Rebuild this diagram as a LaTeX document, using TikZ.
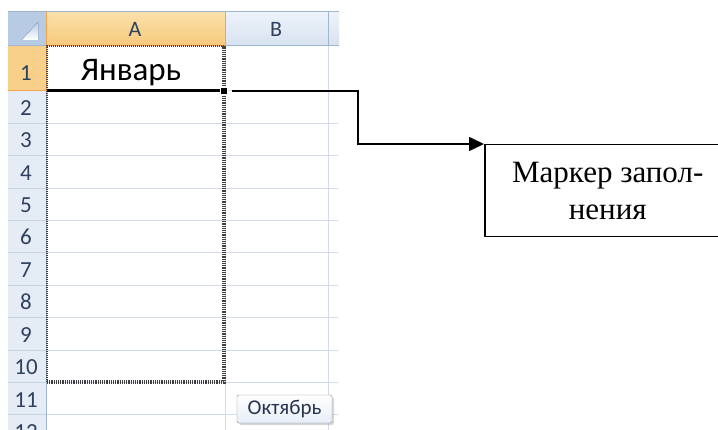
\documentclass[tikz,border=0pt]{standalone}
\usepackage{fontspec}
\setmainfont{Liberation Serif}
\newfontfamily\xlfont{Carlito}
\usetikzlibrary{arrows.meta,shadows}
\definecolor{hdrtop}{HTML}{EEF3FA}
\definecolor{hdrbot}{HTML}{D7E2F0}
\definecolor{hdrline}{HTML}{9EB6CE}
\definecolor{hdrortop}{HTML}{FBE0AC}
\definecolor{hdrorbot}{HTML}{F6C97A}
\definecolor{hdrorline}{HTML}{F2A54A}
\definecolor{gridline}{HTML}{D4DCEA}
\definecolor{hdrtext}{HTML}{2F4160}
\definecolor{cornerblue}{HTML}{B7CBE4}
\tikzset{
  rownum/.style={font=\xlfont\fontsize{23}{23}\selectfont,text=hdrtext,anchor=base,inner sep=0pt},
  colname/.style={font=\xlfont\fontsize{22}{22}\selectfont,text=hdrtext,anchor=base,inner sep=0pt},
  antsline/.style={draw=black!75,dash pattern=on 1pt off 1pt},
}
\begin{document}
\begin{tikzpicture}[x=1pt,y=-1pt]
\clip (0,0) rectangle (718,430);
\fill[white] (0,0) rectangle (718,430);
% headers
\fill[top color=hdrtop,bottom color=hdrbot] (8,12) rectangle (339,46);
\fill[hdrtop!60!hdrbot] (8,46) rectangle (46,430);
\fill[top color=hdrortop,bottom color=hdrorbot] (46,12) rectangle (225,46);
\fill[hdrorbot!70!hdrortop] (8,46) rectangle (46,91);
\fill[cornerblue] (8,12) rectangle (46,46);
\fill[top color=cornerblue,bottom color=white] (38,22) -- (38,40) -- (22,40) -- cycle;
% grid
\foreach \k in {0,...,10} {
  \draw[gridline,line width=1pt] (46,91+\k*32.4) -- (338,91+\k*32.4);
  \draw[hdrline!60,line width=1pt] (8,91+\k*32.4) -- (46,91+\k*32.4);
}
\draw[gridline,line width=1pt] (225,46) -- (225,430);
\draw[gridline,line width=1pt] (328,46) -- (328,430);
\draw[hdrline,line width=1pt] (8,12) -- (339,12);
\draw[hdrline,line width=1pt] (8,46) -- (339,46);
\draw[hdrline,line width=1pt] (46,46) -- (46,430);
\draw[hdrline,line width=1pt] (328,12) -- (328,46);
\draw[hdrorline,line width=1pt] (46,12) -- (46,91);
\draw[hdrorline,line width=1pt] (225,12) -- (225,46);
\draw[hdrorline,line width=1pt] (46,46) -- (225,46);
\draw[hdrorline,line width=1pt] (8,91) -- (46,91);
% labels
\node[colname] (colA) at (135,37) {A};
\node[colname] (colB) at (276,37) {B};
\node[rownum] (r1) at (26,81) {1};
\foreach \i in {2,...,12}
  \node[rownum] (r\i) at (26,91+\i*32.4-32.4-8) {\i};
\node[font=\xlfont\fontsize{33}{33}\selectfont,anchor=base,inner sep=0pt] (jan) at (131,81) {Январь};
% selection
\draw[antsline,line width=2pt] (224,46) -- (47,46) -- (47,382);
\draw[antsline,line width=3.5pt,dash pattern=on 1.2pt off 1pt] (47,382) -- (224,382) -- (224,46);
\draw[line width=3pt] (47,91) -- (220,91);
\node[fill=black,draw=white,line width=1pt,minimum size=7pt,inner sep=0pt] (handle) at (224,91) {};
% tooltip
\node[draw=black!45,rounded corners=2pt,top color=white,bottom color=hdrtop!70!hdrbot,
  drop shadow={shadow xshift=2pt,shadow yshift=-2pt,opacity=0.3},
  font=\xlfont\fontsize{21}{21}\selectfont,text=hdrtext!80!black,
  minimum width=95pt,minimum height=28pt,inner sep=2pt] (oct) at (284.5,409) {Октябрь};
% marker box
\node[draw,line width=1.5pt,minimum width=246pt,minimum height=92pt,anchor=north west,
  align=center,font=\fontsize{31}{37}\selectfont] (marker) at (484,144) {Маркер запол-\\нения};
\draw[line width=1.5pt,-{Triangle[length=15pt,width=14pt]},shorten <=4pt]
  (handle.east) -- ++(130,0) |- (marker.north west);
\end{tikzpicture}
\end{document}
